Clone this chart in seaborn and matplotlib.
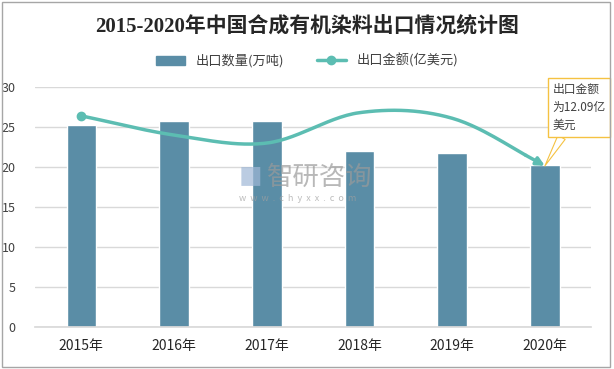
import numpy as np
import matplotlib
matplotlib.use('Agg')
import matplotlib.pyplot as plt
import seaborn as sns
from matplotlib.patches import Patch
from matplotlib.lines import Line2D

# 데이터
years = ['2015年', '2016年', '2017年', '2018年', '2019年', '2020年']
qty = [25.3, 25.8, 25.7, 22.0, 21.8, 20.3]            # 出口数量(万吨)
amount = [15.84, 14.40, 13.80, 16.08, 15.66, 12.09]   # 出口金额(亿美元)

sns.set_theme(style='white')
plt.rcParams['font.family'] = ['Noto Sans CJK SC', 'DejaVu Sans']
plt.rcParams['axes.unicode_minus'] = False

bar_color = '#5a8da6'
line_color = '#5cbdb2'


def smooth(xs, ys, n=30):
    # Catmull-Rom 곡선 (엑셀 부드러운 선 흉내)
    xs = np.asarray(xs, float)
    ys = np.asarray(ys, float)
    px = np.concatenate([[2 * xs[0] - xs[1]], xs, [2 * xs[-1] - xs[-2]]])
    py = np.concatenate([[2 * ys[0] - ys[1]], ys, [2 * ys[-1] - ys[-2]]])
    ox, oy = [], []
    for i in range(1, len(px) - 2):
        t = np.linspace(0, 1, n)
        for p, o in ((px, ox), (py, oy)):
            p0, p1, p2, p3 = p[i - 1], p[i], p[i + 1], p[i + 2]
            o.extend(0.5 * ((2 * p1) + (-p0 + p2) * t
                            + (2 * p0 - 5 * p1 + 4 * p2 - p3) * t ** 2
                            + (-p0 + 3 * p1 - 3 * p2 + p3) * t ** 3))
    return np.array(ox), np.array(oy)


fig = plt.figure(figsize=(6.14, 3.69), dpi=100)
ax = fig.add_axes([0.057, 0.114, 0.906, 0.65])

sns.barplot(x=years, y=qty, color=bar_color, width=0.32, saturation=1, ax=ax)
ax.set_ylim(0, 30)
ax.set_yticks(range(0, 31, 5))
ax.set_xlim(-0.5, 5.5)
ax.yaxis.grid(True, color='#d9d9d9', lw=1)
ax.set_axisbelow(True)
for s in ['top', 'right', 'left']:
    ax.spines[s].set_visible(False)
ax.spines['bottom'].set_color('#d9d9d9')
ax.tick_params(axis='y', length=0, labelsize=9, colors='#404040', pad=14)
ax.tick_params(axis='x', length=0, labelsize=10, colors='#262626', pad=9)
ax.set_xlabel('')
ax.set_ylabel('')

# 금액 (숨긴 보조축)
ax2 = ax.twinx()
ax2.set_ylim(0, 18)
ax2.set_yticks([])
for s in ax2.spines.values():
    s.set_visible(False)
sx, sy = smooth(range(len(amount)), amount)
ax2.plot(sx[:-6], sy[:-6], color=line_color, lw=2.5, solid_capstyle='round')
ax2.annotate('', xy=(sx[-1], sy[-1]), xytext=(sx[-7], sy[-7]),
             arrowprops=dict(arrowstyle='-|>', color=line_color, lw=2.5,
                             mutation_scale=12, shrinkA=0, shrinkB=0))
ax2.plot([0], [amount[0]], 'o', color=line_color, ms=6)

# 콜아웃
ax2.annotate('出口金额\n为12.09亿\n美元', xy=(5, amount[-1]), xytext=(5.08, 18.3),
             fontsize=8.5, color='#404040', va='top', ha='left', linespacing=1.5,
             bbox=dict(boxstyle='square,pad=0.4', fc='white', ec='#f5c242', lw=1),
             arrowprops=dict(arrowstyle='wedge,tail_width=0.7', fc='white',
                             ec='#f5c242', lw=0.8, shrinkA=0, shrinkB=0))

# 워터마크
fig.text(0.435, 0.52, '智研咨询', fontsize=19, color='#9a9a9a', alpha=0.7, va='center')
fig.text(0.39, 0.462, 'w  w  w  .  c  h  y  x  x  .  c  o  m', fontsize=6.5,
         color='#a0a0a0', alpha=0.7, va='center')
fig.text(0.388, 0.52, '■', fontsize=17, color='#9fb7d6', alpha=0.7, va='center')

fig.text(0.5, 0.925, '2015-2020年中国合成有机染料出口情况统计图', ha='center', va='center',
         fontsize=15, fontweight='bold', color='#262626',
         family=['Liberation Serif', 'Noto Sans CJK SC'])

handles = [Patch(color=bar_color, label='出口数量(万吨)'),
           Line2D([0], [0], color=line_color, lw=2.5, marker='o', ms=6,
                  markevery=[0], label='出口金额(亿美元)')]
fig.legend(handles=handles, loc='center', bbox_to_anchor=(0.5, 0.835), ncol=2,
           frameon=False, fontsize=9.5, handlelength=2.2, columnspacing=2.5,
           labelcolor='#404040')

fig.patches.append(plt.Rectangle((0.004, 0.005), 0.99, 0.99, transform=fig.transFigure,
                                 fill=False, ec='#a6a6a6', lw=1))

fig.savefig('out.png', dpi=100)
